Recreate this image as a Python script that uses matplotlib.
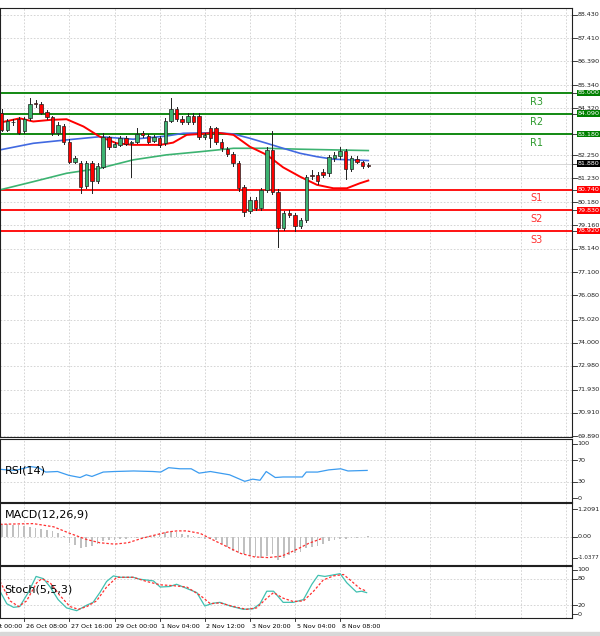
import numpy as np
import matplotlib
matplotlib.use("Agg")
import matplotlib.pyplot as plt

W, H = 600, 636

# candle data (H4), index 0..65
opens = [84.13, 83.37, 83.72, 83.84, 83.30, 83.88, 84.57, 84.50, 84.15, 83.93,
         83.22, 83.56, 82.85, 81.97, 81.93, 80.90, 81.90, 81.10, 81.75, 83.05,
         82.63, 82.70, 83.00, 82.78, 82.85, 83.25, 83.10, 82.90, 83.00, 82.80,
         83.78, 84.28, 83.85, 83.73, 84.00, 84.00, 83.05, 83.44, 83.44, 82.85,
         82.52, 82.30, 81.90, 80.87, 79.80, 80.30, 79.92, 80.73, 82.49, 80.65,
         79.04, 79.73, 79.63, 79.14, 79.40, 81.40, 81.40, 81.53, 81.46, 82.15,
         82.20, 82.46, 81.64, 82.10, 81.96, 81.82]
closes = [83.37, 83.74, 83.70, 83.25, 83.84, 84.51, 84.50, 84.13, 83.95, 83.22,
          83.59, 82.85, 81.97, 82.12, 80.87, 81.90, 81.10, 81.80, 83.05, 82.63,
          82.75, 83.00, 82.75, 82.82, 83.20, 83.15, 82.85, 83.05, 82.70, 83.78,
          84.28, 83.84, 83.73, 84.00, 83.73, 83.05, 83.15, 83.00, 82.85, 82.56,
          82.30, 81.90, 80.80, 79.77, 80.30, 79.92, 80.73, 82.49, 80.65, 79.04,
          79.70, 79.63, 79.14, 79.40, 81.30, 81.32, 81.10, 81.40, 82.16, 82.25,
          82.46, 81.64, 82.12, 81.96, 81.80, 81.80]
highs = [84.30, 83.85, 83.85, 83.95, 83.95, 84.76, 84.68, 84.60, 84.25, 84.00,
         83.70, 83.62, 82.95, 82.20, 82.00, 81.98, 81.98, 81.90, 83.25, 83.10,
         82.85, 83.10, 83.08, 82.90, 83.45, 83.30, 83.20, 83.15, 83.08, 83.90,
         84.77, 84.40, 84.00, 84.10, 84.10, 84.10, 83.25, 83.55, 83.50, 82.95,
         82.60, 82.40, 82.00, 80.95, 80.40, 80.40, 80.80, 82.60, 83.34, 80.75,
         79.80, 79.85, 79.70, 79.50, 81.40, 81.60, 81.50, 81.65, 82.25, 82.40,
         82.60, 82.55, 82.20, 82.20, 82.00, 81.90]
lows = [83.30, 83.30, 83.60, 83.20, 83.25, 83.80, 84.40, 84.05, 83.85, 83.15,
        83.15, 82.75, 81.90, 81.90, 80.58, 80.80, 80.60, 81.05, 81.70, 82.55,
        82.60, 82.65, 82.70, 81.30, 82.78, 83.05, 82.80, 82.85, 82.60, 82.70,
        83.70, 83.75, 83.65, 83.65, 83.65, 82.95, 82.95, 82.60, 82.75, 82.45,
        82.20, 81.80, 80.70, 79.60, 79.70, 79.85, 79.85, 80.65, 80.55, 78.23,
        78.95, 79.55, 78.90, 79.05, 79.30, 81.20, 81.00, 81.30, 81.35, 82.00,
        82.10, 81.20, 81.55, 81.90, 81.70, 81.75]

# moving averages (position in candle index, price)
ma_red_k = [-0.3, 3.2, 5.6, 8.6, 11.5, 14.5, 17.4, 20.4, 23.3, 28.1, 30.4, 32.8,
            35.2, 38.1, 41.1, 44.0, 47.0, 49.9, 52.9, 55.9, 58.8, 61.2, 63.5, 65.0]
ma_red = [83.69, 83.88, 83.74, 83.81, 83.84, 83.52, 83.07, 82.78, 82.71, 82.71,
          82.81, 83.15, 83.19, 83.25, 83.15, 82.63, 82.27, 81.72, 81.31, 80.95,
          80.80, 80.80, 81.02, 81.14]
ma_blue_k = [-0.3, 5.6, 11.5, 17.4, 23.3, 29.2, 32.2, 38.1, 41.1, 44.0, 47.0,
             49.9, 52.9, 55.9, 58.8, 61.8, 65.0]
ma_blue = [82.49, 82.78, 82.93, 83.07, 82.96, 83.10, 83.22, 83.25, 83.19, 83.00,
           82.78, 82.56, 82.34, 82.19, 82.08, 82.05, 82.02]
ma_green_k = [-0.3, 5.6, 11.5, 17.4, 23.3, 29.2, 35.2, 41.1, 47.0, 52.9, 58.8, 65.0]
ma_green = [80.73, 81.09, 81.46, 81.68, 82.05, 82.27, 82.41, 82.56, 82.56, 82.52,
            82.49, 82.46]

res_levels = [85.000, 84.090, 83.180]
res_names = ["R3", "R2", "R1"]
sup_levels = [80.740, 79.830, 78.920]
sup_names = ["S1", "S2", "S3"]
last_price = 81.880

price_ticks = [88.430, 87.410, 86.390, 85.340, 84.320, 82.250, 81.230, 80.180,
               79.160, 78.140, 77.100, 76.080, 75.020, 74.000, 72.980, 71.930,
               70.910, 69.890]

time_labels = ["26 Oct 00:00", "26 Oct 08:00", "27 Oct 16:00", "29 Oct 00:00",
               "1 Nov 04:00", "2 Nov 12:00", "3 Nov 20:00", "5 Nov 04:00",
               "8 Nov 08:00"]

# RSI(14)
rsi_k = [-0.3, 2.4, 5.1, 6.5, 7.8, 9.9, 11.9, 13.9, 15.0, 16.0, 18.0, 20.0, 23.4,
         26.8, 28.2, 29.6, 31.6, 33.6, 35.0, 37.0, 40.4, 43.1, 44.5, 45.8, 46.9,
         48.5, 49.9, 52.0, 53.3, 54.0, 56.0, 58.0, 60.1, 61.4, 64.8]
rsi = [53, 51, 58, 56, 48, 49, 42, 38, 43, 40, 48, 49, 50, 49, 48, 56, 54, 54,
       46, 49, 43, 31, 35, 33, 49, 38, 39, 39, 39, 48, 48, 52, 54, 50, 51]

# MACD(12,26,9) histogram per candle and signal line
macd_hist = [0.55, 0.55, 0.52, 0.50, 0.48, 0.45, 0.40, 0.35, 0.30, 0.25,
             0.18, 0.05, -0.25, -0.35, -0.50, -0.45, -0.40, -0.30, -0.20, -0.15,
             -0.12, -0.10, -0.08, -0.05, -0.03, -0.05, 0.05, 0.10, 0.15, 0.22,
             0.25, 0.22, 0.12, 0.08, 0.05, -0.05, -0.08, -0.10, -0.15, -0.30,
             -0.45, -0.60, -0.70, -0.75, -0.85, -0.90, -0.95, -0.85, -0.75, -1.00,
             -0.95, -0.80, -0.70, -0.65, -0.50, -0.45, -0.40, -0.30, -0.20, -0.15,
             -0.10, -0.08, -0.05, -0.03, -0.02, 0.02]
sig_k = [-0.3, 5.6, 9.2, 12.1, 15.1, 17.4, 20.0, 22.4, 24.8, 27.2, 29.6, 31.1,
         32.8, 35.2, 37.6, 40.0, 42.4, 44.8, 47.2, 49.6, 52.0, 54.4, 56.8]
sig = [0.55, 0.58, 0.44, 0.15, -0.12, -0.26, -0.32, -0.26, -0.07, 0.08, 0.22,
       0.26, 0.26, 0.15, -0.15, -0.44, -0.73, -0.88, -0.91, -0.85, -0.59, -0.29,
       -0.07]

# Stochastic(5,5,3)
sto_k = [-0.3, 0.9, 2.1, 3.2, 4.7, 6.1, 7.4, 8.6, 10.0, 11.5, 13.3, 15.1, 16.2,
         17.4, 18.6, 19.8, 21.0, 23.3, 24.5, 26.9, 28.1, 29.8, 31.0, 32.8, 34.6,
         36.0, 37.5, 38.7, 40.5, 42.8, 44.6, 45.8, 47.0, 48.2, 49.9, 51.7, 53.5,
         55.0, 56.1, 57.3, 60.0, 61.2, 62.9, 63.8, 64.7]
sto_main = [51.8, 23.4, 15.2, 17.0, 48.6, 85.3, 80.2, 61.3, 32.8, 13.9, 7.6,
            20.2, 26.5, 48.6, 73.9, 86.5, 83.4, 83.4, 79.0, 75.2, 61.3, 62.5,
            67.6, 58.1, 48.6, 18.3, 24.6, 26.5, 18.3, 10.7, 12.0, 23.4, 51.8,
            51.8, 26.5, 26.5, 32.8, 67.6, 87.8, 85.3, 91.6, 70.8, 49.9, 51.8, 48.6]
sig_sto_k = [-0.3, 1.5, 3.0, 4.4, 6.2, 7.1, 8.6, 10.3, 12.1, 13.6, 15.1, 16.8,
             18.6, 20.4, 23.3, 25.7, 28.1, 30.4, 32.8, 35.2, 37.0, 38.7, 41.1,
             43.4, 45.2, 47.0, 48.2, 49.9, 51.7, 53.5, 55.3, 57.0, 58.8, 60.6,
             61.8, 63.5, 64.7]
sto_sig = [73.9, 29.7, 17.0, 29.7, 70.8, 80.2, 70.8, 42.3, 17.0, 10.7, 17.0,
           29.7, 61.3, 83.4, 83.4, 73.9, 66.3, 64.4, 61.3, 42.3, 23.4, 25.3,
           17.0, 10.7, 13.9, 36.0, 48.6, 36.0, 28.4, 29.7, 51.8, 77.1, 86.5,
           89.7, 77.1, 58.1, 51.8]

PX0, PXK = 1.7, 5.64          # pixel of candle 0 and pixel per candle
AX_W = 572
XMIN = -PX0 / PXK
XMAX = (AX_W - PX0) / PXK
GRID_K = np.arange(4, 102, 8)
LBL_K = np.arange(-4, 61, 8)
SMALL = 4.6

fig = plt.figure(figsize=(W / 100, H / 100), dpi=100)
fig.patch.set_facecolor("white")


def add_panel(top, bottom):
    ax = fig.add_axes([0, 1 - bottom / H, AX_W / W, (bottom - top) / H])
    ax.set_xlim(XMIN, XMAX)
    ax.set_xticks([])
    ax.set_yticks([])
    for s in ax.spines.values():
        s.set_color("#202020")
        s.set_linewidth(0.8)
    for k in GRID_K:
        ax.axvline(k, color="#cfcfcf", lw=0.6, ls=(0, (2, 2)), zorder=0)
    return ax


def right_label(ax, y, text, fc=None, tc="#202020", size=SMALL):
    box = None
    if fc is not None:
        box = dict(boxstyle="square,pad=0.12", fc=fc, ec="none")
    ax.text(1.01, y, text, transform=ax.get_yaxis_transform(), fontsize=size,
            color=tc, va="center", ha="left", bbox=box, clip_on=False)
    ax.plot([1.0, 1.008], [y, y], transform=ax.get_yaxis_transform(),
            color="#202020", lw=0.6, clip_on=False)


# main price panel
ax = add_panel(8, 437)
ax.set_ylim(69.846, 88.738)
for p in price_ticks:
    ax.axhline(p, color="#cfcfcf", lw=0.6, ls=(0, (2, 2)), zorder=0)
    right_label(ax, p, f"{p:.3f}")

ax.plot(ma_green_k, ma_green, color="#3cb371", lw=1.2, zorder=2)
ax.plot(ma_blue_k, ma_blue, color="#4169e1", lw=1.2, zorder=2)
ax.plot(ma_red_k, ma_red, color="#ff0000", lw=1.4, zorder=2)

for lvl, name in zip(res_levels, res_names):
    ax.axhline(lvl, color="#008000", lw=1.3, zorder=1)
    ax.text(94.8, lvl - 0.17, name, color="#2e9b2e", fontsize=7, va="top", ha="center")
    right_label(ax, lvl, f"{lvl:.3f}", fc="#008000", tc="white")
for lvl, name in zip(sup_levels, sup_names):
    ax.axhline(lvl, color="#ff0000", lw=1.3, zorder=1)
    ax.text(94.8, lvl - 0.17, name, color="#ff3030", fontsize=7, va="top", ha="center")
    right_label(ax, lvl, f"{lvl:.3f}", fc="#ff0000", tc="white")
ax.axhline(last_price, color="#d0d0d0", lw=0.6, zorder=0)
right_label(ax, last_price, f"{last_price:.3f}", fc="black", tc="white")

for i, (o, c, h, l) in enumerate(zip(opens, closes, highs, lows)):
    ax.plot([i, i], [l, h], color="#202020", lw=0.7, zorder=3)
    col = "#3cb371" if c >= o else "#ff0000"
    bottom = min(o, c)
    height = max(abs(c - o), 0.03)
    ax.bar(i, height, bottom=bottom, width=0.62, color=col, edgecolor="#202020",
           linewidth=0.5, zorder=4)

# RSI panel
ax_rsi = add_panel(439, 502)
ax_rsi.set_ylim(-6.8, 108.5)
for v in [70, 30]:
    ax_rsi.axhline(v, color="#cfcfcf", lw=0.6, ls=(0, (2, 2)), zorder=0)
for v in [100, 70, 30, 0]:
    right_label(ax_rsi, v, str(v))
ax_rsi.plot(rsi_k, rsi, color="#3c9cf0", lw=0.9)
ax_rsi.text(0.008, 0.5, "RSI(14)", transform=ax_rsi.transAxes, fontsize=8, va="center")

# MACD panel
ax_macd = add_panel(503, 565)
ax_macd.set_ylim(-1.236, 1.484)
ax_macd.axhline(0, color="#cfcfcf", lw=0.6, ls=(0, (2, 2)), zorder=0)
ax_macd.bar(np.arange(len(macd_hist)), macd_hist, width=0.3, color="#c0c0c0")
ax_macd.plot(sig_k, sig, color="#ff3030", lw=0.9, ls=(0, (2, 1.5)))
right_label(ax_macd, 1.2091, "1.2091")
right_label(ax_macd, 0.0, "0.00")
right_label(ax_macd, -0.92, "-1.0377", size=4.1)
ax_macd.text(0.008, 0.82, "MACD(12,26,9)", transform=ax_macd.transAxes, fontsize=8, va="center")

# Stochastic panel
ax_sto = add_panel(566, 618)
ax_sto.set_ylim(-9, 109)
for v in [80, 20]:
    ax_sto.axhline(v, color="#cfcfcf", lw=0.6, ls=(0, (2, 2)), zorder=0)
for v in [100, 80, 20, 0]:
    right_label(ax_sto, v, str(v))
ax_sto.plot(sto_k, sto_main, color="#40c0b0", lw=0.9)
ax_sto.plot(sig_sto_k, sto_sig, color="#ff3030", lw=0.9, ls=(0, (2, 1.5)))
ax_sto.text(0.008, 0.55, "Stoch(5,5,3)", transform=ax_sto.transAxes, fontsize=8, va="center")

# time labels
for k, t in zip(LBL_K, time_labels):
    ax_sto.text(k + 0.3, -0.12, t, transform=ax_sto.get_xaxis_transform(), fontsize=SMALL,
                ha="left", va="top", clip_on=False)
    ax_sto.plot([k, k], [0, -0.06], transform=ax_sto.get_xaxis_transform(),
                color="#202020", lw=0.6, clip_on=False)

# bottom gray strip
fig.patches.append(plt.Rectangle((0, 0), 1, 4 / H, transform=fig.transFigure,
                                 color="#d8d8d8", zorder=0))

fig.savefig("out.png", dpi=100)
